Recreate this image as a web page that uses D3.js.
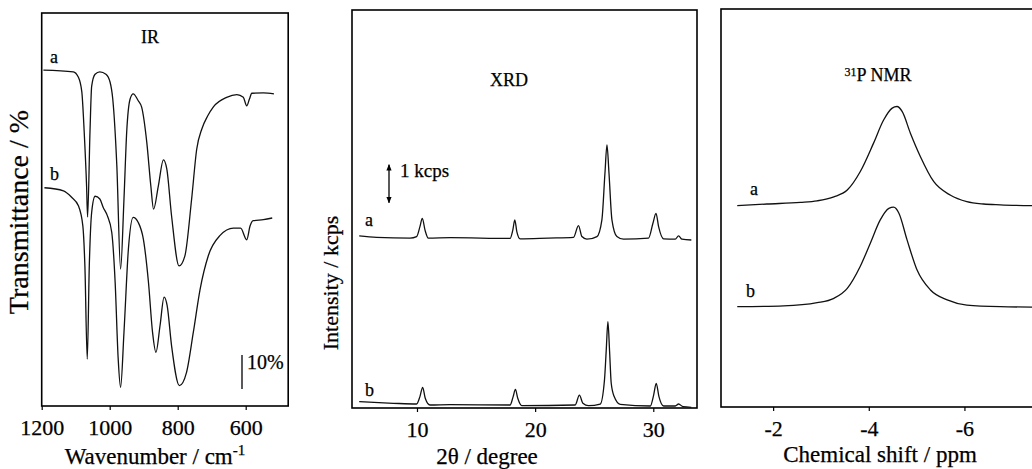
<!DOCTYPE html>
<html lang="en">
<head>
    <meta charset="UTF-8">
    <script src="https://cdn.jsdelivr.net/npm/d3@7"></script>
    <style>
        body { margin: 0; background: #fff; }
        svg text { font-family: "Liberation Serif", "DejaVu Serif", serif; fill: #000; stroke: #000; stroke-width: 0.25px; }
    </style>
</head>
<body>
<svg width="1032" height="469"></svg>
<script>
    // IR spectra (wavenumber / cm-1, transmittance / %)
    var irWaveA = [1195, 1107, 1092, 1082, 1075, 1068, 1065, 1058, 1053, 1043, 1029, 1011, 999, 991, 979, 968, 958, 950, 940, 931, 916, 906, 891, 879, 871, 857, 842, 832, 818, 796, 779, 759, 744, 729, 712, 695, 656, 626, 607, 597, 589, 582, 548, 517];
    var irTransA = [98.8, 98.3, 96.7, 92.4, 80.6, 64.7, 55.6, 80.6, 94.1, 97.6, 98.3, 97.6, 95.3, 90.3, 70.6, 40.3, 60.9, 80.6, 90.3, 91.8, 89.8, 87.9, 77.6, 64.7, 57.9, 64.7, 72.4, 69.7, 55.9, 41.2, 44.1, 60.9, 75.6, 81.5, 85.3, 88.0, 90.8, 91.6, 90.8, 88.3, 90.3, 92.0, 92.1, 91.8];
    var irWaveB = [1192, 1136, 1112, 1092, 1079, 1073, 1066, 1060, 1053, 1043, 1029, 1019, 1007, 994, 984, 975, 968, 958, 945, 931, 916, 901, 886, 874, 864, 852, 840, 831, 818, 795, 774, 754, 734, 710, 676, 636, 615, 597, 587, 578, 548, 522];
    var irTransB = [64.2, 63.3, 61.4, 58.9, 53.0, 41.3, 13.8, 41.3, 57.0, 61.7, 60.9, 58.4, 56.0, 51.1, 36.4, 13.8, 5.5, 21.7, 46.2, 55.5, 54.0, 49.1, 36.4, 21.7, 15.8, 23.6, 32.0, 29.5, 17.7, 6.0, 9.9, 21.7, 34.4, 44.2, 50.1, 52.3, 52.3, 48.9, 53.0, 54.5, 54.8, 55.3];
    var irTicks = [1200, 1000, 800, 600];

    // XRD patterns (2theta / degree, intensity / kcps)
    var xrdAngleA = [5.11, 6.58, 9.41, 9.97, 10.25, 10.45, 10.68, 10.96, 12.84, 17.88, 18.11, 18.28, 18.45, 18.73, 21.13, 23.25, 23.67, 23.96, 24.38, 25.23, 25.65, 25.91, 26.08, 26.25, 26.5, 26.92, 27.48, 29.6, 29.97, 30.23, 30.45, 30.87, 31.86, 32.14, 32.43, 33.22];
    var xrdIntA = [4.53, 4.49, 4.47, 4.51, 4.77, 4.99, 4.68, 4.47, 4.48, 4.46, 4.68, 4.95, 4.64, 4.45, 4.47, 4.49, 4.80, 4.51, 4.44, 4.51, 4.95, 6.18, 6.92, 6.18, 4.95, 4.51, 4.44, 4.47, 4.86, 5.12, 4.77, 4.45, 4.44, 4.53, 4.44, 4.42];
    var xrdAngleB = [5.11, 8.0, 9.97, 10.25, 10.48, 10.70, 11.1, 12.8, 17.88, 18.14, 18.33, 18.53, 18.87, 23.39, 23.75, 24.04, 24.52, 25.51, 25.87, 26.02, 26.16, 26.3, 26.44, 26.69, 27.2, 29.75, 30.03, 30.25, 30.48, 30.87, 31.86, 32.14, 32.52, 33.22];
    var xrdIntB = [0.166, 0.124, 0.105, 0.30, 0.545, 0.255, 0.079, 0.09, 0.079, 0.30, 0.49, 0.255, 0.06, 0.079, 0.34, 0.124, 0.06, 0.105, 0.74, 1.53, 2.27, 1.5, 0.65, 0.30, 0.097, 0.053, 0.34, 0.65, 0.30, 0.053, 0.053, 0.105, 0.034, 0.018];
    var xrdTicks = [10, 20, 30];

    // 31P NMR (chemical shift / ppm, intensity / a.u.)
    var nmrShiftA = [-1.25, -1.87, -2.57, -2.92, -3.27, -3.55, -3.82, -4.10, -4.31, -4.49, -4.59, -4.70, -4.87, -5.08, -5.36, -5.71, -6.05, -6.40, -6.75, -7.45];
    var nmrIntA = [50.6, 51.0, 51.4, 51.8, 52.8, 54.5, 59.1, 66.3, 72.1, 75.1, 75.5, 74.2, 68.8, 62.9, 56.6, 53.2, 51.6, 51.0, 50.8, 50.6];
    var nmrShiftB = [-1.25, -2.22, -2.92, -3.27, -3.55, -3.82, -4.03, -4.24, -4.42, -4.52, -4.63, -4.80, -5.01, -5.29, -5.64, -6.05, -6.75, -7.45];
    var nmrIntB = [25.2, 25.4, 26.2, 27.3, 29.8, 35.3, 41.1, 47.0, 49.9, 50.2, 48.7, 42.0, 34.4, 29.4, 26.9, 25.6, 25.2, 25.1];
    var nmrTicks = [-2, -4, -6];

    var svg = d3.select("svg");

    function zip(xs, ys) {
        return xs.map(function (x, i) { return [x, ys[i]]; });
    }

    function panel(left, right, top, bottom, xDomain, yDomain, ticks, tickFmt) {
        var g = svg.append("g");
        var x = d3.scaleLinear().domain(xDomain).range([left, right]);
        var y = d3.scaleLinear().domain(yDomain).range([bottom, top]);
        g.append("rect")
            .attr("x", left).attr("y", top)
            .attr("width", right - left).attr("height", bottom - top)
            .attr("fill", "none").attr("stroke", "#000").attr("stroke-width", 1.6);
        var ax = d3.axisBottom(x).tickValues(ticks).tickSize(4).tickPadding(9)
            .tickFormat(tickFmt || d3.format("d"));
        var axg = g.append("g").attr("transform", "translate(0," + bottom + ")").call(ax);
        axg.select(".domain").remove();
        axg.selectAll("line").attr("stroke", "#000").attr("stroke-width", 1.2);
        axg.selectAll("text").attr("font-size", 22).attr("font-family", "Liberation Serif");
        return {g: g, x: x, y: y};
    }

    function trace(p, data) {
        var line = d3.line()
            .x(function (d) { return p.x(d[0]); })
            .y(function (d) { return p.y(d[1]); })
            .curve(d3.curveMonotoneX);
        p.g.append("path").datum(data)
            .attr("d", line)
            .attr("fill", "none")
            .attr("stroke", "#111")
            .attr("stroke-width", 1.3);
    }

    function label(txt, x, y, size, anchor) {
        return svg.append("text").attr("x", x).attr("y", y)
            .attr("font-size", size).attr("text-anchor", anchor || "start").text(txt);
    }

    // ---- IR ----
    var ir = panel(41.7, 288.2, 13, 406, [1200, 475], [0, 115.6], irTicks);
    trace(ir, zip(irWaveA, irTransA));
    trace(ir, zip(irWaveB, irTransB));
    label("IR", 150, 43, 18, "middle");
    label("a", 50, 63, 18);
    label("b", 50, 180, 18);
    ir.g.append("line")
        .attr("x1", 242).attr("x2", 242)
        .attr("y1", ir.y(5)).attr("y2", ir.y(15))
        .attr("stroke", "#000").attr("stroke-width", 1.3);
    label("10%", 247, 369, 20);
    svg.append("text")
        .attr("transform", "translate(28,212) rotate(-90)")
        .attr("text-anchor", "middle").attr("font-size", 28)
        .text("Transmittance / %");
    var wl = label("Wavenumber / cm", 155, 464, 23, "middle");
    wl.append("tspan").attr("font-size", 15).attr("dy", -9).text("-1");

    // ---- XRD ----
    var xrd = panel(352, 697, 10, 408, [4.5, 33.7], [0, 10.47], xrdTicks);
    trace(xrd, zip(xrdAngleA, xrdIntA));
    trace(xrd, zip(xrdAngleB, xrdIntB));
    label("XRD", 509, 86, 18, "middle");
    label("a", 365, 226, 18);
    label("b", 365, 396, 18);
    svg.append("defs").append("marker")
        .attr("id", "ah").attr("viewBox", "0 0 10 10").attr("refX", 9).attr("refY", 5)
        .attr("markerWidth", 5).attr("markerHeight", 6).attr("orient", "auto-start-reverse")
        .append("path").attr("d", "M0,1 L10,5 L0,9 z").attr("fill", "#000");
    xrd.g.append("line")
        .attr("x1", 389).attr("x2", 389)
        .attr("y1", xrd.y(6.4)).attr("y2", xrd.y(5.4))
        .attr("stroke", "#000").attr("stroke-width", 1.3)
        .attr("marker-start", "url(#ah)").attr("marker-end", "url(#ah)");
    label("1 kcps", 400, 177, 19);
    svg.append("text")
        .attr("transform", "translate(338,283) rotate(-90)")
        .attr("text-anchor", "middle").attr("font-size", 22)
        .text("Intensity / kcps");
    label("2\u03b8 / degree", 487, 464, 23, "middle");

    // ---- 31P NMR ----
    var nmr = panel(721, 1040, 9, 407, [-0.91, -7.58], [0, 100], nmrTicks, function (d) { return "-" + Math.abs(d); });
    trace(nmr, zip(nmrShiftA, nmrIntA));
    trace(nmr, zip(nmrShiftB, nmrIntB));
    var nt = svg.append("text").attr("x", 878).attr("y", 81).attr("text-anchor", "middle").attr("font-size", 18);
    nt.append("tspan").attr("font-size", 12).attr("dy", -5).text("31");
    nt.append("tspan").attr("dy", 5).text("P NMR");
    label("a", 750, 195, 18);
    label("b", 746, 297, 18);
    label("Chemical shift / ppm", 880, 462, 23, "middle");
</script>
</body>
</html>
